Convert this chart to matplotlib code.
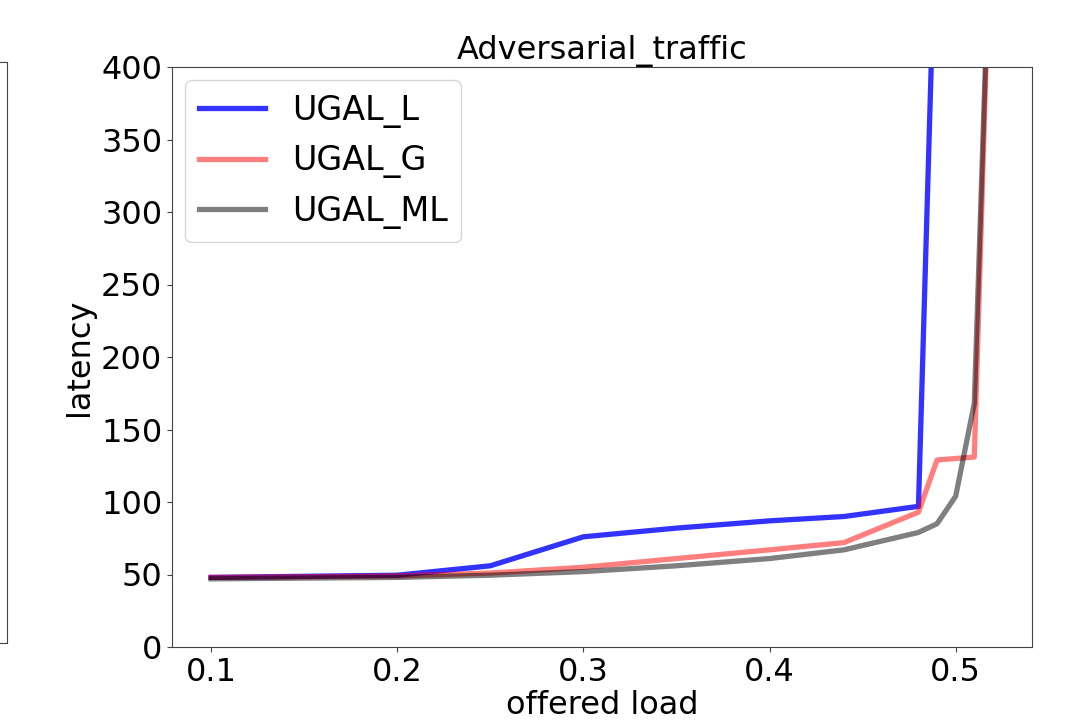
import matplotlib
matplotlib.use("Agg")
import matplotlib.pyplot as plt

# offered load points
carga = [0.1, 0.2, 0.25, 0.3, 0.35, 0.4, 0.44, 0.48, 0.49, 0.5, 0.51, 0.52]

# latency per routing algorithm
lat_ugal_l = [48, 49.5, 56, 76, 82, 87, 90, 97, 540, 900, 1100, 1300]
lat_ugal_g = [48, 49, 51, 55, 61, 67, 72, 93, 129, 130, 131, 560]
lat_ugal_ml = [47, 48, 49.5, 52, 56, 61, 67, 79, 85, 104, 168, 560]

series = [
    ("UGAL_L", lat_ugal_l, "blue", 0.8),
    ("UGAL_G", lat_ugal_g, "red", 0.5),
    ("UGAL_ML", lat_ugal_ml, "black", 0.5),
]

plt.rcParams["font.family"] = "DejaVu Sans"
plt.rcParams["font.size"] = 23

fig = plt.figure(figsize=(10.66, 7.2), dpi=100)

# borda do subplot vizinho (cortado à esquerda)
ax_viz = fig.add_axes([-0.3, 77 / 720, 0.3 + 7 / 1066, 581 / 720])
ax_viz.set_xticks([])
ax_viz.set_yticks([])
for sp in ax_viz.spines.values():
    sp.set_color("#444444")

ax = fig.add_axes([172 / 1066, 73 / 720, 860 / 1066, 580 / 720])
for nome, valores, cor, alfa in series:
    ax.plot(carga, valores, color=cor, alpha=alfa, linewidth=3.8, label=nome)

ax.set_ylim(0, 400)
ax.set_xticks([0.1, 0.2, 0.3, 0.4, 0.5])
ax.set_yticks(range(0, 401, 50))
ax.set_xlabel("offered load", labelpad=2)
ax.set_ylabel("latency", labelpad=4)
ax.set_title("Adversarial_traffic", fontsize=23, pad=2)
for sp in ax.spines.values():
    sp.set_color("#444444")
ax.tick_params(color="#444444")
ax.legend(loc="upper left", fontsize=24, handlelength=2.0, borderaxespad=0.4)

fig.savefig("out.png", dpi=100)
